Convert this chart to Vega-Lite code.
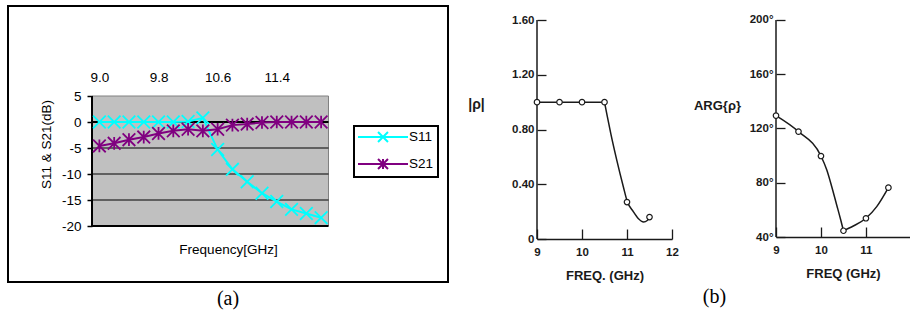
{
  "$schema": "https://vega.github.io/schema/vega-lite/v6.json",
  "padding": {"left": 7, "top": 5, "right": 0, "bottom": 0},
  "background": "white",
  "bounds": "flush",
  "spacing": 89,
  "config": {
    "view": {"stroke": null},
    "axis": {"grid": false, "labelColor": "black", "titleColor": "black", "titleFontWeight": "normal", "labelFlush": false, "labelOverlap": false},
    "title": {"color": "black"}
  },
  "datasets": {
    "one": [{}],
    "grid": [{"g": -15}, {"g": -10}, {"g": -5}],
    "aSeries": [
      {"f": 9.0, "s": "S11", "v": 0}, {"f": 9.2, "s": "S11", "v": 0}, {"f": 9.4, "s": "S11", "v": 0}, {"f": 9.6, "s": "S11", "v": 0},
      {"f": 9.8, "s": "S11", "v": 0}, {"f": 10.0, "s": "S11", "v": 0}, {"f": 10.2, "s": "S11", "v": 0.1}, {"f": 10.4, "s": "S11", "v": 0.8},
      {"f": 10.6, "s": "S11", "v": -5.3}, {"f": 10.8, "s": "S11", "v": -9.1}, {"f": 11.0, "s": "S11", "v": -11.5}, {"f": 11.2, "s": "S11", "v": -13.7},
      {"f": 11.4, "s": "S11", "v": -15.3}, {"f": 11.6, "s": "S11", "v": -16.8}, {"f": 11.8, "s": "S11", "v": -17.6}, {"f": 12.0, "s": "S11", "v": -18.4},
      {"f": 9.0, "s": "S21", "v": -4.6}, {"f": 9.2, "s": "S21", "v": -4.1}, {"f": 9.4, "s": "S21", "v": -3.4}, {"f": 9.6, "s": "S21", "v": -2.9},
      {"f": 9.8, "s": "S21", "v": -2.2}, {"f": 10.0, "s": "S21", "v": -1.7}, {"f": 10.2, "s": "S21", "v": -1.4}, {"f": 10.4, "s": "S21", "v": -1.7},
      {"f": 10.6, "s": "S21", "v": -1.4}, {"f": 10.8, "s": "S21", "v": -0.6}, {"f": 11.0, "s": "S21", "v": -0.4}, {"f": 11.2, "s": "S21", "v": -0.1},
      {"f": 11.4, "s": "S21", "v": 0}, {"f": 11.6, "s": "S21", "v": 0}, {"f": 11.8, "s": "S21", "v": 0}, {"f": 12.0, "s": "S21", "v": 0}
    ],
    "b1Markers": [
      {"f": 9, "v": 1.0}, {"f": 9.5, "v": 1.0}, {"f": 10, "v": 1.0}, {"f": 10.5, "v": 1.0}, {"f": 11, "v": 0.27}, {"f": 11.5, "v": 0.16}
    ],
    "b1Curve": [
      {"seg": "a", "f": 9, "v": 1.0}, {"seg": "a", "f": 9.5, "v": 1.0}, {"seg": "a", "f": 10, "v": 1.0}, {"seg": "a", "f": 10.5, "v": 1.0},
      {"seg": "b", "f": 10.5, "v": 1.0}, {"seg": "b", "f": 10.56, "v": 0.9}, {"seg": "b", "f": 10.64, "v": 0.77}, {"seg": "b", "f": 10.77, "v": 0.58},
      {"seg": "b", "f": 10.92, "v": 0.38}, {"seg": "b", "f": 11.0, "v": 0.28}, {"seg": "b", "f": 11.14, "v": 0.2}, {"seg": "b", "f": 11.25, "v": 0.15},
      {"seg": "b", "f": 11.37, "v": 0.125}, {"seg": "b", "f": 11.45, "v": 0.135}, {"seg": "b", "f": 11.5, "v": 0.16}
    ],
    "b2Markers": [
      {"f": 9, "v": 129.5}, {"f": 9.5, "v": 117.7}, {"f": 10, "v": 99.7}, {"f": 10.5, "v": 44.6}, {"f": 11, "v": 53.8}, {"f": 11.5, "v": 76.4}
    ],
    "b2Curve": [
      {"seg": "a", "f": 9, "v": 129.5}, {"seg": "a", "f": 9.5, "v": 117.7}, {"seg": "a", "f": 10, "v": 99.7}, {"seg": "a", "f": 10.13, "v": 89.4},
      {"seg": "a", "f": 10.24, "v": 77.1}, {"seg": "a", "f": 10.35, "v": 63.6}, {"seg": "a", "f": 10.44, "v": 52.5}, {"seg": "a", "f": 10.5, "v": 44.6},
      {"seg": "b", "f": 10.5, "v": 44.6}, {"seg": "b", "f": 10.72, "v": 48.1}, {"seg": "b", "f": 11, "v": 53.8}, {"seg": "b", "f": 11.24, "v": 62.4},
      {"seg": "b", "f": 11.5, "v": 76.4}
    ]
  },
  "hconcat": [
    {
      "width": 440,
      "height": 276,
      "view": {"stroke": "black", "strokeWidth": 2, "fill": "white"},
      "title": {"text": "(a)", "orient": "bottom", "frame": "group", "anchor": "middle", "font": "Liberation Serif", "fontSize": 20, "fontWeight": "normal", "offset": 7},
      "resolve": {"axis": {"x": "independent", "y": "independent"}},
      "layer": [
        {
          "data": {"name": "one"},
          "mark": {"type": "rect", "fill": "#c0c0c0", "stroke": "#808080", "strokeWidth": 1},
          "encoding": {
            "x": {"datum": 8.9, "type": "quantitative", "scale": {"domain": [7.7633, 13.7171], "nice": false, "zero": false},
              "axis": {"orient": "top", "offset": -90, "values": [9.0, 9.8, 10.6, 11.4], "domain": false, "ticks": false, "labelPadding": 12,
                "labelExpr": "format(datum.value, '.1f')", "title": null, "labelFont": "Liberation Sans", "labelFontSize": 13.5}},
            "x2": {"datum": 12.1},
            "y": {"datum": -20, "type": "quantitative", "scale": {"domain": [-30.769, 22.3077], "nice": false, "zero": false},
              "axis": {"orient": "left", "offset": -84, "values": [-20, -15, -10, -5, 0, 5], "domain": false, "tickSize": 5,
                "tickColor": "black", "tickWidth": 1.5, "labelPadding": 6, "labelExpr": "datum.value + ''", "labelFont": "Liberation Sans",
                "labelFontSize": 13.5, "title": "S11 & S21(dB)", "titleFont": "Liberation Sans", "titleFontSize": 13.5, "titlePadding": 8}},
            "y2": {"datum": 5}
          }
        },
        {
          "data": {"name": "grid"},
          "mark": {"type": "rule", "color": "black", "strokeWidth": 1},
          "encoding": {
            "x": {"datum": 8.9, "type": "quantitative", "scale": {"domain": [7.7633, 13.7171], "nice": false, "zero": false}, "axis": null},
            "x2": {"datum": 12.1},
            "y": {"field": "g", "type": "quantitative", "scale": {"domain": [-30.769, 22.3077], "nice": false, "zero": false}, "axis": null}
          }
        },
        {
          "data": {"name": "one"},
          "mark": {"type": "rule", "color": "black", "strokeWidth": 2},
          "encoding": {
            "x": {"datum": 8.9, "type": "quantitative", "scale": {"domain": [7.7633, 13.7171], "nice": false, "zero": false},
              "axis": {"orient": "top", "offset": -116, "values": [9.1, 9.5, 9.9, 10.3, 10.7, 11.1, 11.5, 11.9], "domain": false, "labels": false,
                "tickSize": 4, "tickColor": "black", "tickWidth": 1.5, "title": null}},
            "x2": {"datum": 12.1},
            "y": {"datum": 0, "type": "quantitative", "scale": {"domain": [-30.769, 22.3077], "nice": false, "zero": false}, "axis": null}
          }
        },
        {
          "data": {"name": "one"},
          "mark": {"type": "rule", "color": "black", "strokeWidth": 2},
          "encoding": {
            "x": {"datum": 8.9, "type": "quantitative", "scale": {"domain": [7.7633, 13.7171], "nice": false, "zero": false},
              "axis": {"orient": "bottom", "offset": -56, "labels": false, "ticks": false, "domain": false, "title": "Frequency[GHz]",
                "titleFont": "Liberation Sans", "titleFontSize": 13.5, "titlePadding": 16}},
            "x2": {"datum": 12.1},
            "y": {"datum": -20, "type": "quantitative", "scale": {"domain": [-30.769, 22.3077], "nice": false, "zero": false}, "axis": null}
          }
        },
        {
          "data": {"name": "one"},
          "mark": {"type": "rule", "color": "black", "strokeWidth": 2},
          "encoding": {
            "x": {"datum": 8.9, "type": "quantitative", "scale": {"domain": [7.7633, 13.7171], "nice": false, "zero": false}, "axis": null},
            "y": {"datum": -20, "type": "quantitative", "scale": {"domain": [-30.769, 22.3077], "nice": false, "zero": false}, "axis": null},
            "y2": {"datum": 5}
          }
        },
        {
          "data": {"name": "aSeries"},
          "mark": {"type": "line", "strokeWidth": 2},
          "encoding": {
            "x": {"field": "f", "type": "quantitative", "scale": {"domain": [7.7633, 13.7171], "nice": false, "zero": false}, "axis": null},
            "y": {"field": "v", "type": "quantitative", "scale": {"domain": [-30.769, 22.3077], "nice": false, "zero": false}, "axis": null},
            "color": {"field": "s", "type": "nominal", "scale": {"domain": ["S11", "S21"], "range": ["#00ffff", "#800080"]},
              "legend": {"orient": "none", "legendX": 346, "legendY": 120, "direction": "vertical", "columns": 1, "title": null,
                "padding": 4, "rowPadding": 9, "strokeColor": "black", "fillColor": "white", "symbolSize": 144, "symbolStrokeWidth": 2,
                "symbolOffset": 18, "labelOffset": 19, "labelFont": "Liberation Sans", "labelFontSize": 13.5, "labelColor": "black",
                "encode": {
                  "symbols": {"update": {"shape": {"signal": "datum.value === 'S11' ? 'M-4.17,0L4.17,0M-0.83,-0.83L0.83,0.83M0.83,-0.83L-0.83,0.83' : 'M-4.17,0L4.17,0M-0.83,-0.83L0.83,0.83M0.83,-0.83L-0.83,0.83M0,-0.83L0,0.83'"}}},
                  "legend": {"update": {"strokeWidth": {"value": 2}}}
                }}}
          }
        },
        {
          "data": {"name": "aSeries"},
          "transform": [{"filter": "datum.s === 'S11'"}],
          "mark": {"type": "point", "shape": "M-1,-1L1,1M1,-1L-1,1", "filled": false, "size": 160, "strokeWidth": 1.8, "opacity": 1},
          "encoding": {
            "x": {"field": "f", "type": "quantitative", "scale": {"domain": [7.7633, 13.7171], "nice": false, "zero": false}, "axis": null},
            "y": {"field": "v", "type": "quantitative", "scale": {"domain": [-30.769, 22.3077], "nice": false, "zero": false}, "axis": null},
            "color": {"field": "s", "type": "nominal", "scale": {"domain": ["S11", "S21"], "range": ["#00ffff", "#800080"]}, "legend": null}
          }
        },
        {
          "data": {"name": "aSeries"},
          "transform": [{"filter": "datum.s === 'S21'"}],
          "mark": {"type": "point", "shape": "M-1,-1L1,1M1,-1L-1,1M0,-1L0,1", "filled": false, "size": 160, "strokeWidth": 1.8, "opacity": 1},
          "encoding": {
            "x": {"field": "f", "type": "quantitative", "scale": {"domain": [7.7633, 13.7171], "nice": false, "zero": false}, "axis": null},
            "y": {"field": "v", "type": "quantitative", "scale": {"domain": [-30.769, 22.3077], "nice": false, "zero": false}, "axis": null},
            "color": {"field": "s", "type": "nominal", "scale": {"domain": ["S11", "S21"], "range": ["#00ffff", "#800080"]}, "legend": null}
          }
        }
      ]
    },
    {
      "bounds": "flush",
      "spacing": 104,
      "hconcat": [
        {
          "width": 135,
          "height": 233,
          "title": {"text": "(b)", "orient": "bottom", "frame": "group", "anchor": "middle", "dx": 110, "font": "Liberation Serif", "fontSize": 20, "fontWeight": "normal", "offset": 4},
          "resolve": {"axis": {"x": "independent", "y": "independent"}},
          "layer": [
            {
              "data": {"name": "one"},
              "mark": {"type": "rule", "color": "#1a1a1a", "strokeWidth": 1.5},
              "encoding": {
                "x": {"datum": 9, "type": "quantitative", "scale": {"domain": [9, 12], "nice": false, "zero": false},
                  "axis": {"orient": "bottom", "values": [9, 10, 11, 12], "domain": true, "domainColor": "#1a1a1a", "domainWidth": 1.5,
                    "tickSize": -10, "tickColor": "#1a1a1a", "tickWidth": 1.3, "labelPadding": 17, "labelFont": "Liberation Sans",
                    "labelFontSize": 11.5, "labelFontWeight": "bold", "labelColor": "#1a1a1a", "title": "FREQ. (GHz)", "titleFont": "Liberation Sans",
                    "titleFontSize": 13, "titleFontWeight": "bold", "titleColor": "#1a1a1a", "titlePadding": 12}},
                "y": {"datum": 0, "type": "quantitative", "scale": {"domain": [0, 1.7023], "nice": false, "zero": false},
                  "axis": {"orient": "left", "values": [0, 0.4, 0.8, 1.2, 1.6], "domain": false, "tickSize": -9,
                    "tickColor": "#1a1a1a", "tickWidth": 1.3, "labelPadding": 12, "labelExpr": "datum.value == 0 ? '0' : format(datum.value, '.2f')",
                    "labelFont": "Liberation Sans", "labelFontSize": 11.5, "labelFontWeight": "bold", "labelColor": "#1a1a1a",
                    "title": "|ρ|", "titleAngle": 0, "titleX": -61, "titleY": 98, "titleAlign": "center", "titleBaseline": "middle",
                    "titleFont": "Liberation Sans", "titleFontSize": 14, "titleFontWeight": "bold", "titleColor": "#1a1a1a"}},
                "y2": {"datum": 1.6}
              }
            },
            {
              "data": {"name": "b1Curve"},
              "mark": {"type": "line", "interpolate": "monotone", "color": "#1a1a1a", "strokeWidth": 1.5},
              "encoding": {
                "x": {"field": "f", "type": "quantitative", "scale": {"domain": [9, 12], "nice": false, "zero": false}, "axis": null},
                "y": {"field": "v", "type": "quantitative", "scale": {"domain": [0, 1.7023], "nice": false, "zero": false}, "axis": null},
                "detail": {"field": "seg"}
              }
            },
            {
              "data": {"name": "b1Markers"},
              "mark": {"type": "point", "shape": "circle", "filled": true, "fill": "white", "stroke": "#1a1a1a", "strokeWidth": 1.2, "size": 30, "opacity": 1},
              "encoding": {
                "x": {"field": "f", "type": "quantitative", "scale": {"domain": [9, 12], "nice": false, "zero": false}, "axis": null},
                "y": {"field": "v", "type": "quantitative", "scale": {"domain": [0, 1.7023], "nice": false, "zero": false}, "axis": null}
              }
            }
          ]
        },
        {
          "width": 134,
          "height": 231,
          "resolve": {"axis": {"x": "independent", "y": "independent"}},
          "layer": [
            {
              "data": {"name": "one"},
              "mark": {"type": "rule", "color": "#1a1a1a", "strokeWidth": 1.5},
              "encoding": {
                "x": {"datum": 9, "type": "quantitative", "scale": {"domain": [9, 11.98], "nice": false, "zero": false},
                  "axis": {"orient": "bottom", "values": [9, 10, 11], "domain": true, "domainColor": "#1a1a1a", "domainWidth": 1.5,
                    "tickSize": -10, "tickColor": "#1a1a1a", "tickWidth": 1.3, "labelPadding": 17, "labelFont": "Liberation Sans",
                    "labelFontSize": 11.5, "labelFontWeight": "bold", "labelColor": "#1a1a1a", "title": "FREQ (GHz)", "titleFont": "Liberation Sans",
                    "titleFontSize": 13, "titleFontWeight": "bold", "titleColor": "#1a1a1a", "titlePadding": 12}},
                "y": {"datum": 40, "type": "quantitative", "scale": {"domain": [40, 210.32], "nice": false, "zero": false},
                  "axis": {"orient": "left", "values": [40, 80, 120, 160, 200], "domain": false, "tickSize": -9,
                    "tickColor": "#1a1a1a", "tickWidth": 1.3, "labelPadding": 12, "labelExpr": "datum.value + '°'",
                    "labelFont": "Liberation Sans", "labelFontSize": 11.5, "labelFontWeight": "bold", "labelColor": "#1a1a1a",
                    "title": "ARG{ρ}", "titleAngle": 0, "titleX": -59, "titleY": 99, "titleAlign": "center", "titleBaseline": "middle",
                    "titleFont": "Liberation Sans", "titleFontSize": 13, "titleFontWeight": "bold", "titleColor": "#1a1a1a"}},
                "y2": {"datum": 200}
              }
            },
            {
              "data": {"name": "b2Curve"},
              "mark": {"type": "line", "interpolate": "monotone", "color": "#1a1a1a", "strokeWidth": 1.5},
              "encoding": {
                "x": {"field": "f", "type": "quantitative", "scale": {"domain": [9, 11.98], "nice": false, "zero": false}, "axis": null},
                "y": {"field": "v", "type": "quantitative", "scale": {"domain": [40, 210.32], "nice": false, "zero": false}, "axis": null},
                "detail": {"field": "seg"}
              }
            },
            {
              "data": {"name": "b2Markers"},
              "mark": {"type": "point", "shape": "circle", "filled": true, "fill": "white", "stroke": "#1a1a1a", "strokeWidth": 1.2, "size": 30, "opacity": 1},
              "encoding": {
                "x": {"field": "f", "type": "quantitative", "scale": {"domain": [9, 11.98], "nice": false, "zero": false}, "axis": null},
                "y": {"field": "v", "type": "quantitative", "scale": {"domain": [40, 210.32], "nice": false, "zero": false}, "axis": null}
              }
            }
          ]
        }
      ]
    }
  ]
}
